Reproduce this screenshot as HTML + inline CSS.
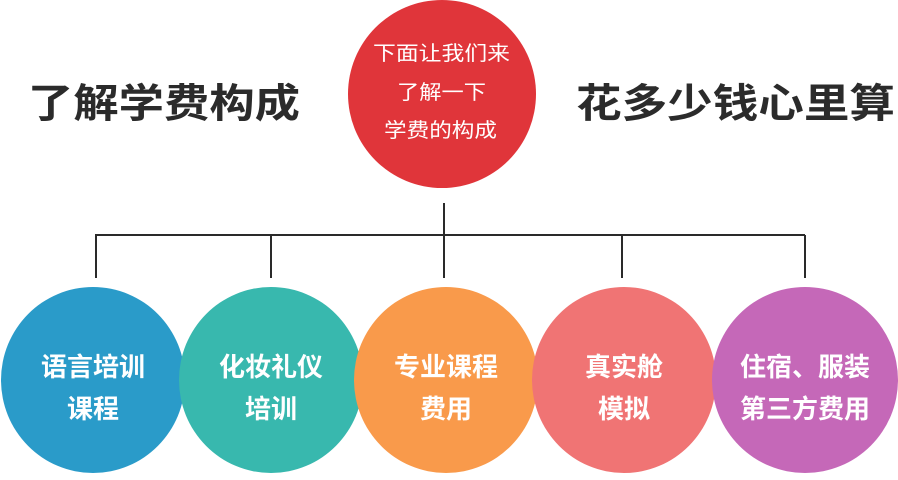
<!DOCTYPE html>
<html><head><meta charset="utf-8"><style>
html,body{margin:0;padding:0;background:#fff;}
body{width:898px;height:475px;overflow:hidden;}
</style></head><body>
<svg width="898" height="475" viewBox="0 0 898 475" xmlns="http://www.w3.org/2000/svg" font-family="'Liberation Sans','Noto Sans CJK SC',sans-serif">
<g stroke="#2a2a2a" stroke-width="2" fill="none">
<line x1="444" y1="203" x2="444" y2="278"/>
<line x1="95" y1="235" x2="805" y2="235"/>
<line x1="96" y1="235" x2="96" y2="278"/>
<line x1="271" y1="235" x2="271" y2="278"/>
<line x1="622" y1="235" x2="622" y2="278"/>
<line x1="805" y1="235" x2="805" y2="278"/>
</g>
<ellipse cx="442" cy="94" rx="94" ry="94" fill="#e0353a"/>
<g fill="#fff" font-size="20">
<text x="373" y="60" textLength="137" lengthAdjust="spacingAndGlyphs">下面让我们来</text>
<text x="397" y="99" textLength="89" lengthAdjust="spacingAndGlyphs">了解一下</text>
<text x="384" y="137" textLength="113" lengthAdjust="spacingAndGlyphs">学费的构成</text>
</g>
<g fill="#2b2b2b" font-size="40" font-weight="bold">
<text x="28" y="117" textLength="272" lengthAdjust="spacingAndGlyphs">了解学费构成</text>
<text x="576" y="117" textLength="319" lengthAdjust="spacingAndGlyphs">花多少钱心里算</text>
</g>
<ellipse cx="93" cy="380" rx="92" ry="93" fill="#2a9bc9"/>
<ellipse cx="271" cy="380" rx="92" ry="93" fill="#38b8ae"/>
<ellipse cx="446" cy="380" rx="92" ry="93" fill="#f99a4b"/>
<ellipse cx="624" cy="380" rx="92" ry="93" fill="#f07474"/>
<ellipse cx="805" cy="380" rx="93" ry="93" fill="#c568b8"/>
<g fill="#fff" font-size="26" font-weight="bold" text-anchor="middle">
<text x="93" y="376">语言培训</text><text x="93" y="418">课程</text>
<text x="271" y="376">化妆礼仪</text><text x="271" y="418">培训</text>
<text x="446" y="376">专业课程</text><text x="446" y="418">费用</text>
<text x="624" y="376">真实舱</text><text x="624" y="418">模拟</text>
<text x="805" y="376">住宿、服装</text><text x="805" y="418">第三方费用</text>
</g>
</svg>
</body></html>
